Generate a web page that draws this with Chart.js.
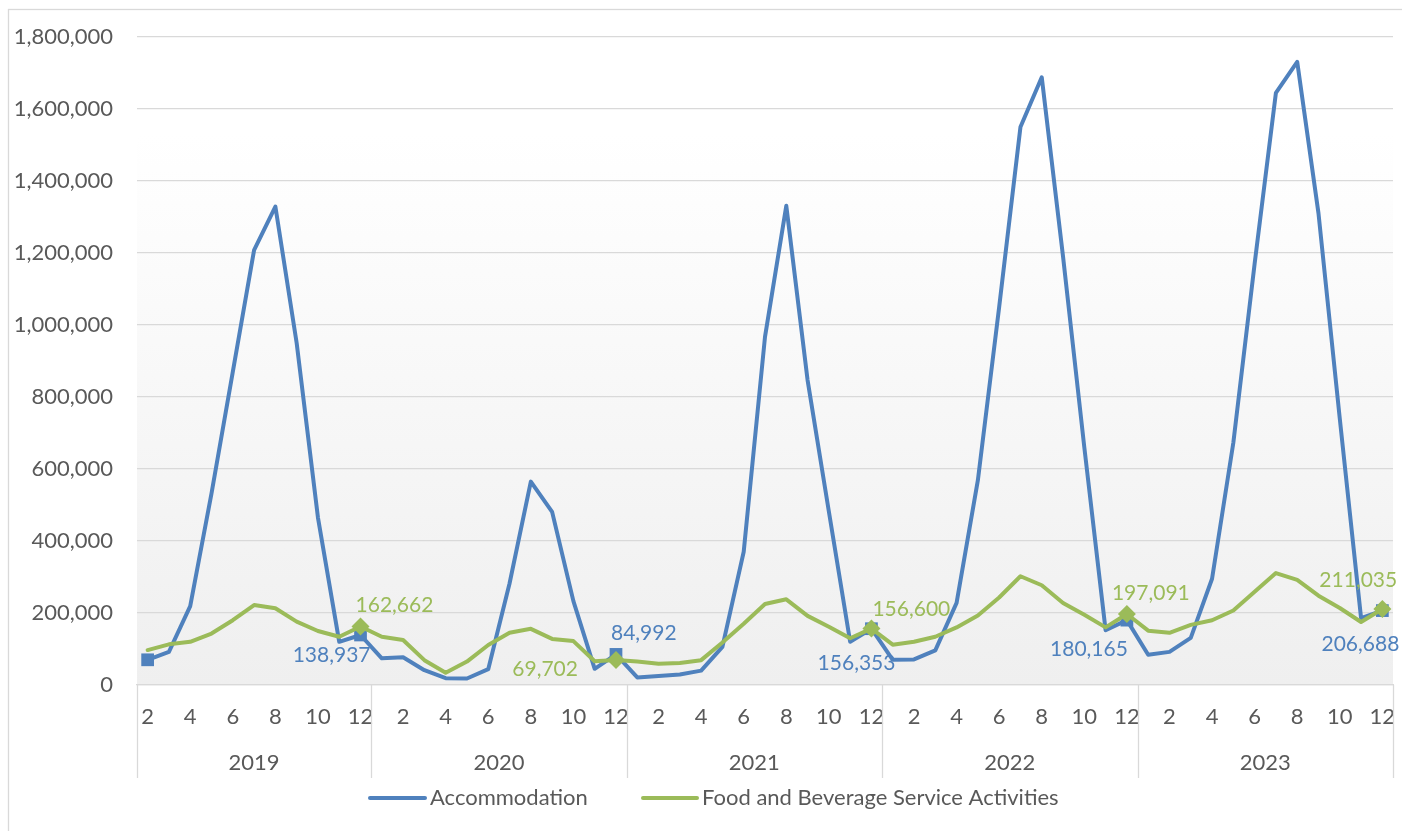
<!DOCTYPE html>
<html><head><meta charset="utf-8">
<script src="https://cdn.jsdelivr.net/npm/chart.js@4.4.0/dist/chart.umd.min.js"></script>
<style>html,body{margin:0;padding:0;background:#fff;}#wrap{position:relative;width:1402px;height:831px;}canvas{display:block;}</style>
</head><body><div id="wrap"><canvas id="c" width="1402" height="831"></canvas></div>
<script>
// ---- data ----
const years = ['2019', '2020', '2021', '2022', '2023'];
const months = [2,3,4,5,6,7,8,9,10,11,12,
  1,2,3,4,5,6,7,8,9,10,11,12,
  1,2,3,4,5,6,7,8,9,10,11,12,
  1,2,3,4,5,6,7,8,9,10,11,12,
  1,2,3,4,5,6,7,8,9,10,11,12];
const accommodation = [
  70000, 92000, 219000, 532000, 870000, 1208000, 1329000, 950000, 465000, 120000, 138937,
  74000, 77000, 41000, 19000, 18000, 44000, 282000, 565000, 481000, 233000, 45000, 84992,
  21000, 25000, 29000, 40000, 106000, 370000, 967000, 1331000, 847000, 482000, 120000, 156353,
  70000, 71000, 96000, 228000, 569000, 1050000, 1550000, 1688000, 1190000, 660000, 152000, 180165,
  84000, 92000, 131000, 295000, 673000, 1170000, 1645000, 1731000, 1310000, 740000, 186000, 206688
];
const foodBeverage = [
  97000, 113000, 120000, 143000, 180000, 222000, 213000, 176000, 150000, 134000, 162662,
  134000, 125000, 69000, 34000, 65000, 111000, 145000, 156000, 128000, 122000, 66000, 69702,
  65000, 59000, 61000, 69000, 118000, 170000, 225000, 238000, 192000, 162000, 130000, 156600,
  112000, 120000, 134000, 160000, 193000, 243000, 302000, 277000, 228000, 195000, 160000, 197091,
  151000, 145000, 167000, 180000, 207000, 259000, 311000, 292000, 248000, 214000, 175000, 211035
];
const seriesNames = ['Accommodation', 'Food and Beverage Service Activities'];
const yTickValues = [0, 200000, 400000, 600000, 800000, 1000000, 1200000, 1400000, 1600000, 1800000];

// ---- styles ----
const BLUE = '#4F81BD', GREEN = '#9BBB59', TXT = '#595959', GRID = '#d9d9d9';
const FONT = 'Lato';
// label offsets for December data labels (relative to the point)
const labelOffsets = [
  [[10, 20, 'right'], [-5, -21, 'left'], [24, 35, 'right'], [1, 29, 'right'], [17, 34, 'right']],
  [[-5, -21, 'left'], [-38, 9, 'right'], [1, -19, 'left'], [-15, -21, 'left'], [-63, -29, 'left']]
];

const fmt = v => Number(v).toLocaleString('en-US');

const bgPlugin = {
  id: 'bg',
  beforeDraw(chart) {
    const {ctx, chartArea: a} = chart;
    const g = ctx.createLinearGradient(0, a.top, 0, a.bottom);
    g.addColorStop(0, '#ffffff');
    g.addColorStop(0.15, '#ffffff');
    g.addColorStop(1, '#efefef');
    ctx.save();
    ctx.fillStyle = g;
    ctx.fillRect(a.left, a.top, a.right - a.left, a.bottom - a.top);
    ctx.restore();
  }
};

const decoPlugin = {
  id: 'deco',
  afterDatasetsDraw(chart) {
    const ctx = chart.ctx;
    ctx.save();
    ctx.font = '21px ' + FONT;
    ctx.textBaseline = 'middle';
    [0, 1].forEach(ds => {
      const meta = chart.getDatasetMeta(ds);
      const data = chart.data.datasets[ds].data;
      let k = 0;
      months.forEach((m, i) => {
        if (m !== 12) return;
        const p = meta.data[i];
        const o = labelOffsets[ds][k++];
        ctx.fillStyle = ds === 0 ? BLUE : GREEN;
        ctx.textAlign = o[2];
        ctx.fillText(fmt(data[i]), p.x + o[0], p.y + o[1]);
      });
    });
    ctx.restore();
  },
  afterDraw(chart) {
    const ctx = chart.ctx;
    const xs = chart.scales.x;
    const bottom = chart.chartArea.bottom;
    ctx.save();
    // group separators
    const bounds = [xs.left];
    months.forEach((m, i) => {
      if (i > 0 && m === 1) bounds.push((xs.getPixelForValue(i - 1) + xs.getPixelForValue(i)) / 2);
    });
    bounds.push(xs.right);
    ctx.strokeStyle = GRID;
    ctx.lineWidth = 1.3;
    bounds.forEach(b => {
      ctx.beginPath();
      ctx.moveTo(Math.round(b) + 0.5, bottom);
      ctx.lineTo(Math.round(b) + 0.5, bottom + 93);
      ctx.stroke();
    });
    // year labels
    ctx.fillStyle = TXT;
    ctx.font = '22px ' + FONT;
    ctx.textAlign = 'center';
    ctx.textBaseline = 'middle';
    years.forEach((y, j) => {
      ctx.fillText(y, (bounds[j] + bounds[j + 1]) / 2, bottom + 78);
    });
    // legend
    const ly = 798;
    const items = [[370, 425, BLUE], [643, 697, GREEN]];
    items.forEach((it, j) => {
      ctx.strokeStyle = it[2];
      ctx.lineWidth = 4;
      ctx.lineCap = 'round';
      ctx.beginPath();
      ctx.moveTo(it[0], ly);
      ctx.lineTo(it[1], ly);
      ctx.stroke();
      ctx.fillStyle = TXT;
      ctx.textAlign = 'left';
      ctx.fillText(seriesNames[j], it[1] + 5, ly);
    });
    // outer frame
    ctx.strokeStyle = GRID;
    ctx.lineWidth = 1.3;
    ctx.strokeRect(8.5, 9.5, 1500, 900);
    ctx.restore();
  }
};

function markerRadius(ds) {
  return c => {
    const m = months[c.dataIndex];
    if (m === 12) return 9;
    if (ds === 0 && c.dataIndex === 0) return 9;
    return 0;
  };
}

function build() {
  new Chart(document.getElementById('c'), {
    type: 'line',
    data: {
      labels: months.map(String),
      datasets: [
        {label: seriesNames[0], data: accommodation, borderColor: BLUE, backgroundColor: BLUE,
         borderWidth: 4, tension: 0, pointStyle: 'rect', pointRadius: markerRadius(0),
         pointBorderWidth: 0, pointHoverRadius: 0, borderJoinStyle: 'round', borderCapStyle: 'round', order: 2},
        {label: seriesNames[1], data: foodBeverage, borderColor: GREEN, backgroundColor: GREEN,
         borderWidth: 4, tension: 0, pointStyle: 'rectRot', pointRadius: markerRadius(1),
         pointBorderWidth: 0, pointHoverRadius: 0, borderJoinStyle: 'round', borderCapStyle: 'round', order: 1}
      ]
    },
    options: {
      responsive: false, animation: false, devicePixelRatio: 1,
      layout: {padding: {top: 37, right: 7, bottom: 53, left: 0}},
      plugins: {legend: {display: false}, tooltip: {enabled: false}},
      events: [],
      scales: {
        x: {
          type: 'category', offset: true,
          grid: {display: false, drawTicks: false},
          border: {display: true, color: GRID, width: 1.3},
          ticks: {autoSkip: false, maxRotation: 0, minRotation: 0, padding: 19, color: TXT,
                  font: {family: FONT, size: 22},
                  callback: (v, i) => (months[i] % 2 === 0 ? String(months[i]) : '')},
          afterFit: s => { s.height = 93; s.paddingLeft = 0; s.paddingRight = 0; }
        },
        y: {
          min: 0, max: yTickValues[yTickValues.length - 1],
          afterBuildTicks: s => { s.ticks = yTickValues.map(v => ({value: v})); },
          ticks: {padding: 24, color: TXT, font: {family: FONT, size: 22}, callback: v => fmt(v)},
          grid: {color: GRID, lineWidth: 1.3, drawTicks: false},
          border: {display: false},
          afterFit: s => { s.width = 137; s.paddingTop = 0; s.paddingBottom = 0; }
        }
      }
    },
    plugins: [bgPlugin, decoPlugin]
  });
}
if (document.fonts && document.fonts.load) {
  Promise.all([document.fonts.load('22px Lato'), document.fonts.load('21px Lato')]).then(build, build);
} else build();
</script></body></html>
